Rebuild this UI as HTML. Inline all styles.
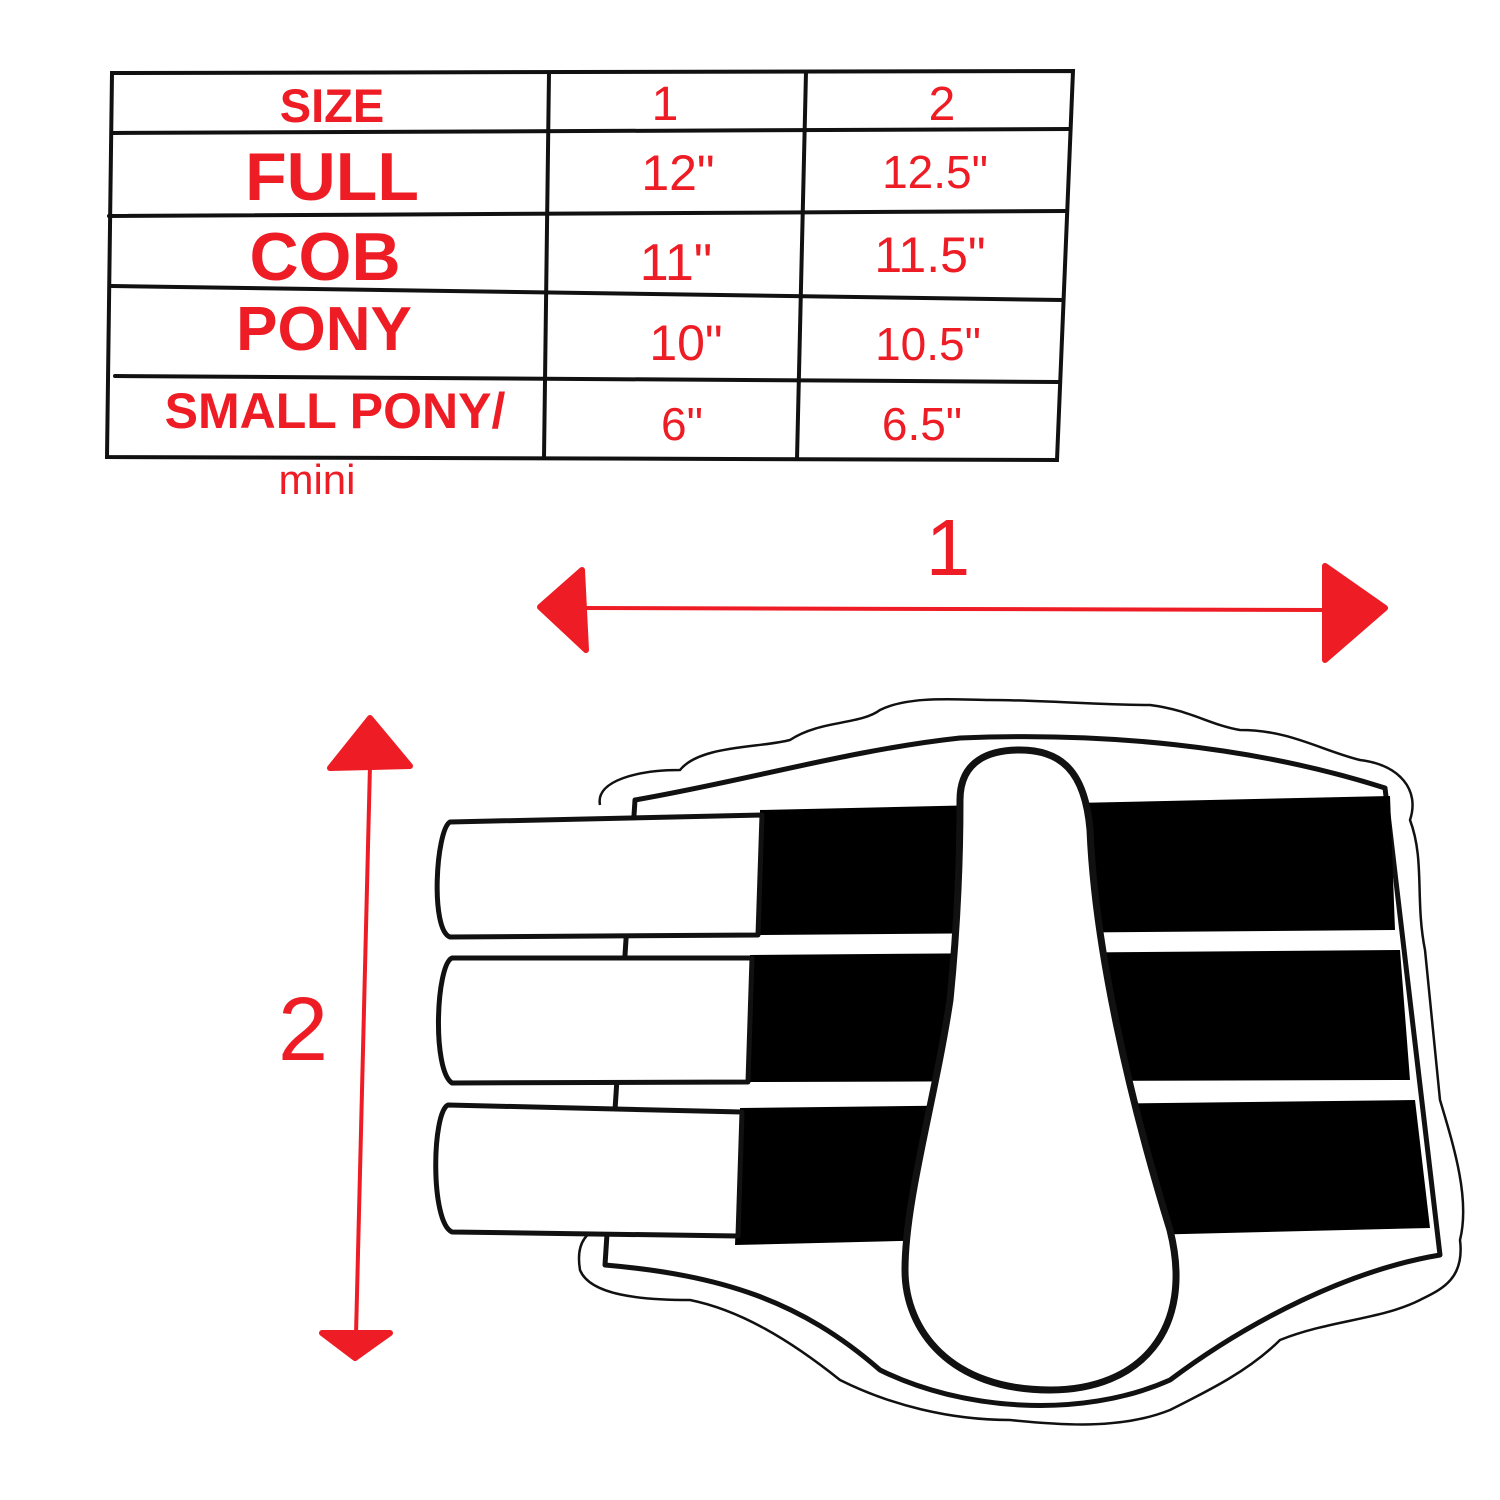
<!DOCTYPE html>
<html><head><meta charset="utf-8"><style>
html,body{margin:0;padding:0;background:#fff;}
svg{display:block;}
.h{font-family:"Liberation Sans",sans-serif;fill:#ee1c24;}
.w{font-family:"Liberation Sans",sans-serif;fill:#ee1c24;font-weight:300;}
</style></head><body>
<svg width="1500" height="1500" viewBox="0 0 1500 1500" xmlns="http://www.w3.org/2000/svg">
<g stroke="#111" stroke-width="4" fill="none" stroke-linecap="round">
<path d="M112 73 L1073 71 L1057 460 L107 457 Z"/>
<path d="M112 133 L1070 129"/>
<path d="M109 216 L1066 211"/>
<path d="M112 286 L1062 300"/>
<path d="M115 376 L1058 382"/>
<path d="M549 73 L544 458"/>
<path d="M806 72 L797 459"/>
</g>
<g text-anchor="middle">
<text class="h" x="332" y="122" font-size="47" font-weight="bold">SIZE</text>
<text class="h" x="332" y="200" font-size="68" font-weight="bold">FULL</text>
<text class="h" x="325" y="280" font-size="68" font-weight="bold">COB</text>
<text class="h" x="324" y="350" font-size="62" font-weight="bold">PONY</text>
<text class="h" x="335" y="428" font-size="50" font-weight="bold">SMALL PONY/</text>
<text class="w" x="317" y="494" font-size="42">mini</text>
<text class="w" x="665" y="120" font-size="48">1</text>
<text class="w" x="942" y="120" font-size="48">2</text>
<text class="w" x="678" y="190" font-size="50">12"</text>
<text class="w" x="935" y="188" font-size="46">12.5"</text>
<text class="w" x="676" y="280" font-size="52">11"</text>
<text class="w" x="930" y="272" font-size="50">11.5"</text>
<text class="w" x="686" y="360" font-size="50">10"</text>
<text class="w" x="928" y="360" font-size="46">10.5"</text>
<text class="w" x="682" y="440" font-size="46">6"</text>
<text class="w" x="922" y="440" font-size="46">6.5"</text>
<text class="w" x="948" y="575" font-size="80">1</text>
<text class="w" x="303" y="1060" font-size="90">2</text>
</g>
<g fill="#ee1c24" stroke="#ee1c24" stroke-linejoin="round">
<path d="M585 608 L1330 610" stroke-width="4"/>
<path d="M540 607 L582 570 L586 650 Z" stroke-width="6"/>
<path d="M1385 608 L1325 566 L1325 660 Z" stroke-width="6"/>
<path d="M370 765 L356 1335" stroke-width="4"/>
<path d="M370 718 L330 768 L410 766 Z" stroke-width="6"/>
<path d="M355 1358 L322 1333 L390 1333 Z" stroke-width="6"/>
</g>
<g stroke="#111" fill="none" stroke-linejoin="round">
<path stroke-width="2.5" d="M600 805 C595 780 640 770 680 770 C700 745 760 748 790 740 C820 720 860 725 880 710 C910 695 960 700 990 700 C1040 700 1100 705 1150 705 C1190 710 1210 725 1240 730 C1290 730 1320 750 1360 760 C1400 765 1420 790 1410 820 C1425 860 1415 900 1425 950 C1430 1000 1435 1050 1440 1100 C1455 1150 1470 1200 1460 1240 C1465 1280 1440 1290 1420 1300 C1380 1320 1330 1320 1280 1340 C1250 1370 1210 1390 1170 1410 C1120 1430 1060 1425 1010 1420 C950 1420 890 1405 840 1380 C790 1340 740 1310 690 1300 C640 1300 590 1295 580 1270 C575 1240 590 1230 600 1230"/>
<path stroke-width="5" fill="#fff" d="M635 800 C750 780 850 750 960 738 C1100 732 1250 745 1385 788 L1440 1255 C1350 1270 1250 1320 1170 1380 C1080 1420 960 1410 880 1370 C800 1300 720 1275 605 1265 Z"/>
<g fill="#000" stroke="none">
<path d="M760 810 L1390 796 L1395 930 L760 935 Z"/>
<path d="M750 955 L1400 950 L1410 1080 L745 1082 Z"/>
<path d="M740 1108 L1415 1100 L1430 1228 L735 1245 Z"/>
</g>
<path stroke-width="5" fill="#fff" d="M450 822 L762 815 L758 935 L450 937 C430 930 436 830 450 822 Z"/>
<path stroke-width="5" fill="#fff" d="M452 958 L752 958 L748 1082 L452 1083 C432 1070 436 965 452 958 Z"/>
<path stroke-width="5" fill="#fff" d="M448 1105 L742 1112 L738 1236 L452 1232 C430 1222 432 1112 448 1105 Z"/>
<path stroke-width="7" fill="#fff" d="M960 800 C960 760 990 750 1020 750 C1060 750 1085 770 1090 830 C1095 950 1130 1100 1170 1230 C1195 1330 1140 1390 1050 1390 C950 1390 905 1330 905 1270 C905 1200 935 1100 950 1000 C958 920 960 850 960 800 Z"/>
</g>
</svg>
</body></html>
